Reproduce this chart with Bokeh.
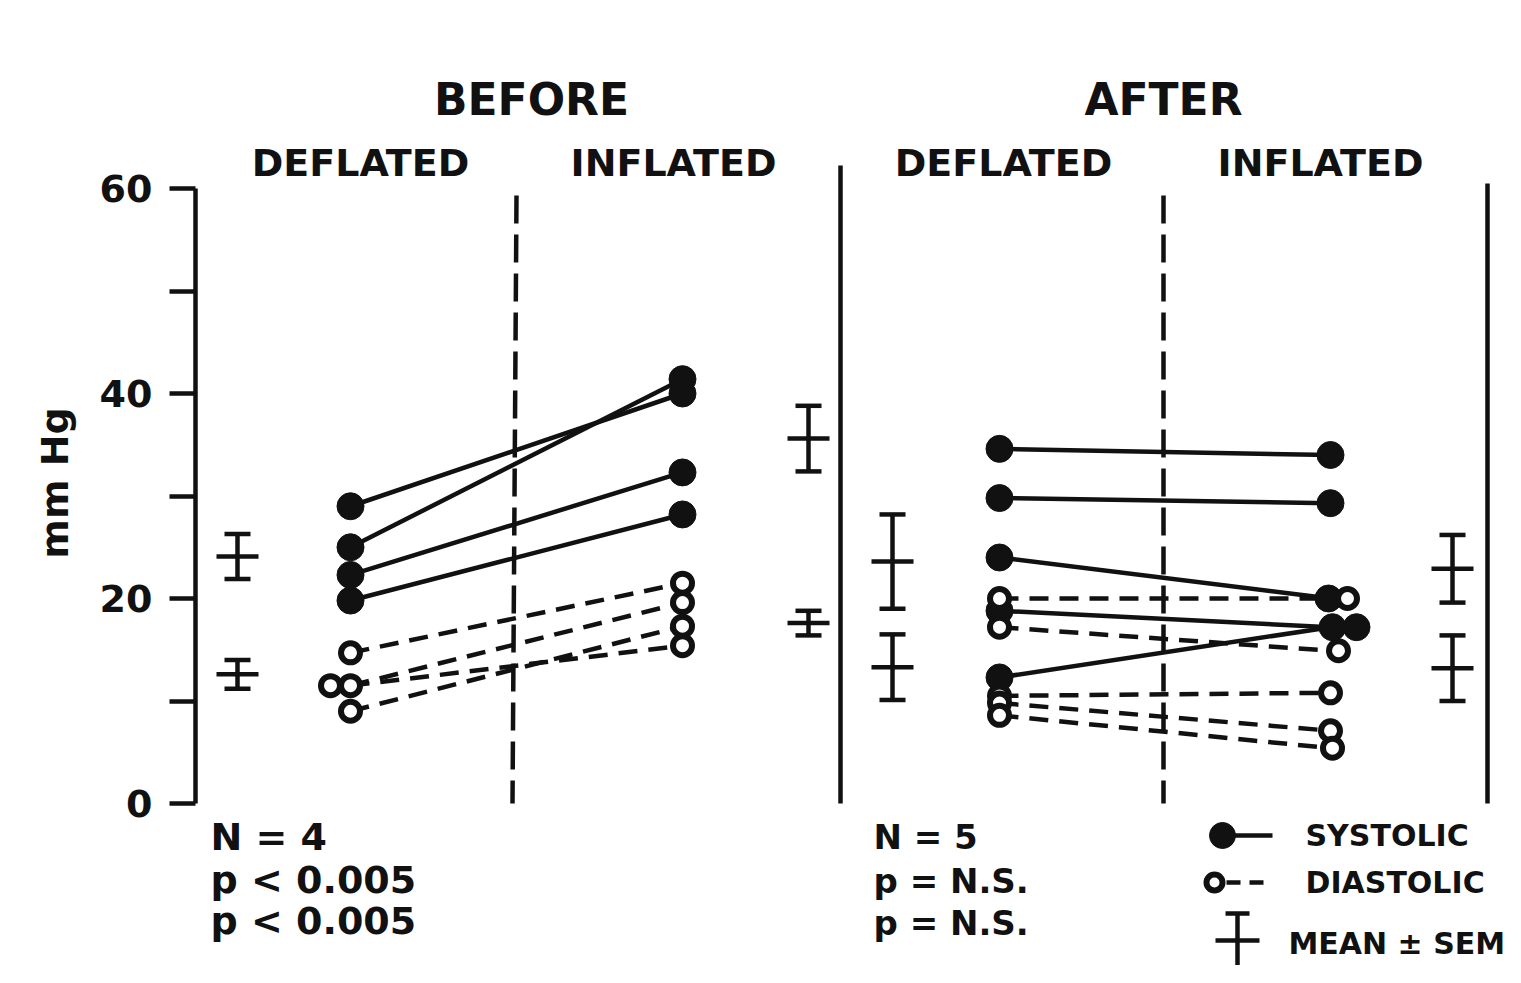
from bokeh.plotting import figure
from bokeh.models import Range1d, FixedTicker, ColumnDataSource
from bokeh.core.properties import value
from bokeh.embed import file_html
from bokeh.resources import INLINE

# ---------------- data (mm Hg) ----------------
before_def_sys = [29.0, 25.0, 22.3, 19.8]
before_inf_sys = [40.0, 41.4, 32.3, 28.2]
before_def_dia = [14.7, 11.5, 11.5, 9.0]
before_inf_dia = [21.5, 19.6, 15.4, 17.3]

after_def_sys = [34.6, 29.8, 24.0, 18.8, 12.3]
after_inf_sys = [34.0, 29.3, 20.0, 17.2, 17.2]
after_def_dia = [20.0, 17.2, 10.5, 9.8, 8.6]
after_inf_dia = [20.0, 14.9, 10.8, 7.1, 5.4]

# mean +/- SEM: before-deflated, before-inflated, after-deflated, after-inflated
sys_mean = [24.1, 35.6, 23.6, 22.9]
sys_sem = [2.2, 3.2, 4.6, 3.3]
dia_mean = [12.6, 17.6, 13.3, 13.2]
dia_sem = [1.4, 1.2, 3.2, 3.2]

y_ticks = [0, 10, 20, 30, 40, 50, 60]
y_tick_labels = {0: "0", 10: "", 20: "20", 30: "", 40: "40", 50: "", 60: "60"}

group_titles = ["BEFORE", "AFTER"]
cond_titles = ["DEFLATED", "INFLATED", "DEFLATED", "INFLATED"]
stats_before = ["N = 4", "p < 0.005", "p < 0.005"]
stats_after = ["N = 5", "p = N.S.", "p = N.S."]
legend_labels = ["SYSTOLIC", "DIASTOLIC", "MEAN \u00b1 SEM"]

# ---------------- layout ----------------
W, H = 1505, 965
OFF = 0              # picture origin of the figure
LEFT = 195           # left border (axis panel)
PX = 10.25           # pixels per mm Hg
Y0 = 803             # picture row of 0 mm Hg
LW = 4.5


def Y(py):
    """picture row -> data value"""
    return (Y0 - py) / PX


X_BD, X_BI, X_AD, X_AI = 350, 682, 999, 1330
X_ERR = [237, 808, 892, 1452]
FONT = value("DejaVu Sans")
INK = "#111111"

p = figure(width=W, height=H, output_backend="svg", toolbar_location=None,
           x_range=Range1d(OFF + LEFT, OFF + W),
           y_range=Range1d(Y(OFF + H), Y(OFF)),
           x_axis_location=None, min_border_left=LEFT, min_border_right=0,
           min_border_top=0, min_border_bottom=0)
p.grid.visible = False
p.outline_line_color = None
p.background_fill_color = "white"
p.border_fill_color = "white"

ax = p.yaxis[0]
ax.ticker = FixedTicker(ticks=y_ticks)
ax.major_label_overrides = y_tick_labels
ax.bounds = (0, 60)
ax.axis_line_width = LW
ax.axis_line_color = INK
ax.major_tick_line_width = LW
ax.major_tick_line_color = INK
ax.major_tick_in = 0
ax.major_tick_out = 26
ax.minor_tick_line_color = None
ax.major_label_standoff = 17
ax.major_label_text_font = "DejaVu Sans"
ax.major_label_text_font_style = "bold"
ax.major_label_text_font_size = "38px"
ax.major_label_text_color = INK
ax.axis_label = "mm Hg"
ax.axis_label_text_font = "DejaVu Sans"
ax.axis_label_text_font_style = "bold"
ax.axis_label_text_font_size = "38px"
ax.axis_label_text_color = INK
ax.axis_label_standoff = 20

# ---------------- dividers ----------------
p.segment(x0=[840, 1487], y0=[Y(165), Y(183)], x1=[840, 1487], y1=[0, 0],
          line_width=LW, line_color=INK)
p.segment(x0=[516, 1163], y0=[Y(195), Y(195)], x1=[512, 1163], y1=[0, 0],
          line_width=LW, line_color=INK, line_dash="28 11")


# ---------------- paired data ----------------
def pairs(xa, xb, ya, yb, dash):
    n = len(ya)
    src = ColumnDataSource(dict(x0=[xa] * n, x1=[xb] * n, y0=ya, y1=yb))
    if dash:
        p.segment("x0", "y0", "x1", "y1", source=src, line_width=LW,
                  line_color=INK, line_dash="19 11")
    else:
        p.segment("x0", "y0", "x1", "y1", source=src, line_width=LW, line_color=INK)


def marks(xs, ys, dxs, filled):
    xx = [xs + d for d in dxs]
    if filled:
        p.scatter(xx, ys, size=27, fill_color=INK, line_color=INK, line_width=1)
    else:
        p.scatter(xx, ys, size=19, fill_color="white", line_color=INK, line_width=6)


# lines first
pairs(X_BD, X_BI, before_def_sys, before_inf_sys, False)
pairs(X_BD, X_BI, before_def_dia, before_inf_dia, True)
pairs(X_AD, X_AI, after_def_sys, after_inf_sys, False)
pairs(X_AD, X_AI, after_def_dia, after_inf_dia, True)

# markers
marks(X_BD, before_def_sys, [0, 0, 0, 0], True)
marks(X_BI, before_inf_sys, [0, 0, 0, 0], True)
marks(X_BD, before_def_dia, [0, -20, 0, 0], False)
marks(X_BI, before_inf_dia, [0, 0, 0, 0], False)
marks(X_AD, after_def_sys, [0, 0, 0, 0, 0], True)
marks(X_AI, after_inf_sys, [0, 0, -2, 2, 26], True)
marks(X_AD, after_def_dia, [0, 0, 0, 0, 0], False)
marks(X_AI, after_inf_dia, [17, 8, 0, 0, 2], False)


# ---------------- mean +/- SEM ----------------
def errbars(means, sems):
    lo = [m - s for m, s in zip(means, sems)]
    hi = [m + s for m, s in zip(means, sems)]
    p.segment(X_ERR, lo, X_ERR, hi, line_width=LW, line_color=INK)
    p.segment([x - 13 for x in X_ERR], lo, [x + 13 for x in X_ERR], lo, line_width=LW, line_color=INK)
    p.segment([x - 13 for x in X_ERR], hi, [x + 13 for x in X_ERR], hi, line_width=LW, line_color=INK)
    p.segment([x - 21 for x in X_ERR], means, [x + 21 for x in X_ERR], means, line_width=LW, line_color=INK)


errbars(sys_mean, sys_sem)
errbars(dia_mean, dia_sem)

# ---------------- texts ----------------
p.text(x=[531, 1163], y=[Y(99)] * 2, text=group_titles, text_font=FONT,
       text_font_style="bold", text_font_size=value("44px"), text_align="center",
       text_baseline="middle", text_color=INK)
p.text(x=[360, 673, 1003, 1320], y=[Y(162)] * 4, text=cond_titles, text_font=FONT,
       text_font_style="bold", text_font_size=value("38px"), text_align="center",
       text_baseline="middle", text_color=INK)
p.text(x=[210] * 3, y=[Y(836), Y(879), Y(920)], text=stats_before, text_font=FONT,
       text_font_style="bold", text_font_size=value("38px"), text_align="left",
       text_baseline="middle", text_color=INK)
p.text(x=[873] * 3, y=[Y(836), Y(880), Y(922)], text=stats_after, text_font=FONT,
       text_font_style="bold", text_font_size=value("34px"), text_align="left",
       text_baseline="middle", text_color=INK)

# ---------------- legend ----------------
p.segment([1222], [Y(835)], [1272], [Y(835)], line_width=LW, line_color=INK)
p.scatter([1222], [Y(835)], size=26, fill_color=INK, line_color=INK)
p.segment([1226], [Y(882)], [1272], [Y(882)], line_width=LW, line_color=INK, line_dash="14 9")
p.scatter([1214], [Y(882)], size=16, fill_color="white", line_color=INK, line_width=6)
p.segment([1237], [Y(913)], [1237], [Y(967)], line_width=LW, line_color=INK)
p.segment([1225, 1225, 1215], [Y(913), Y(967), Y(940)], [1249, 1249, 1259],
          [Y(913), Y(967), Y(940)], line_width=LW, line_color=INK)
p.text(x=[1305, 1305, 1288], y=[Y(835), Y(882), Y(943)], text=legend_labels,
       text_font=FONT, text_font_style="bold", text_font_size=value("30px"),
       text_align="left", text_baseline="middle", text_color=INK)

open("out.html", "w").write(file_html(p, INLINE))
